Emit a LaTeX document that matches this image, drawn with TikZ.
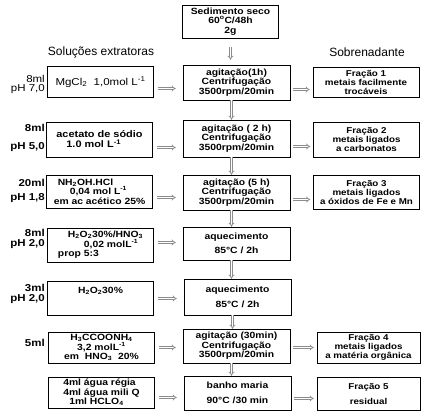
\documentclass[tikz,border=0pt]{standalone}
\usepackage{fontspec}
\setmainfont{Liberation Sans}
\newfontfamily\boxfont[FakeStretch=1.15]{Liberation Sans}
\usetikzlibrary{arrows.meta,shadows}
\definecolor{ArrGray}{HTML}{8C8C8C}

\begin{document}
\begin{tikzpicture}[x=1pt,y=-1pt,
box/.style={draw=black,fill=white,line width=0.5pt,inner sep=1pt,align=center,font=\boxfont\bfseries\fontsize{9}{9.5}\selectfont,
  drop shadow={shadow xshift=0.8pt,shadow yshift=-0.8pt,fill=black!75,opacity=1}},
lbox/.style={box,minimum width=106pt},
mbox/.style={box,minimum width=107pt},
rbox/.style={box,minimum width=106pt,font=\boxfont\bfseries\fontsize{8.5}{9}\selectfont},
lbl/.style={anchor=east,inner sep=0pt,font=\boxfont\bfseries\fontsize{10}{11}\selectfont},
head/.style={font=\fontsize{12}{14}\selectfont},
arr/.style={draw=ArrGray,line width=0.7pt,double=white,double distance=1.3pt,-{Implies}}]
\useasboundingbox (0,0) rectangle (432,418);
% sample and column heads
\node[box,minimum width=96pt,minimum height=33pt] (top) at (230.5,21.5) {Sedimento seco\\60\textsuperscript{o}C/48h\\2g};
\node[head] (hl) at (101,52) {Soluções extratoras};
\node[head] (hr) at (367,52) {Sobrenadante};
% row labels
\node[lbl,font=\boxfont\fontsize{10}{11}\selectfont] (v1) at (45,79) {8ml};
\node[lbl,font=\boxfont\fontsize{10}{11}\selectfont] (p1) at (45,89) {pH 7,0};
\node[lbl] (v2) at (45,128) {8ml};
\node[lbl] (p2) at (45,147) {pH 5,0};
\node[lbl] (v3) at (45,183) {20ml};
\node[lbl] (p3) at (45,198) {pH 1,8};
\node[lbl] (v4) at (45,233) {8ml};
\node[lbl] (p4) at (45,244) {pH 2,0};
\node[lbl] (v5) at (45,288) {3ml};
\node[lbl] (p5) at (45,299) {pH 2,0};
\node[lbl] (v6) at (45,343) {5ml};
% extracting solutions
\node[lbox,minimum height=31pt,font=\boxfont\fontsize{10}{11}\selectfont] (l1) at (100.5,82) {MgCl\textsubscript{2}\ \ 1,0mol L\textsuperscript{-1}};
\node[lbox,minimum height=35pt,align=left,font=\boxfont\bfseries\fontsize{9.5}{10}\selectfont] (l2) at (99.5,139.5) {acetato de sódio\\\hspace*{10pt}1.0 mol L\textsuperscript{-1}};
\node[lbox,minimum height=33pt,align=left] (l3) at (99.5,191.5) {\hspace*{4pt}NH\textsubscript{2}OH.HCl\\\hspace*{16pt}0,04 mol L\textsuperscript{-1}\\em ac acético 25\%};
\node[lbox,minimum height=34pt,align=left] (l4) at (100.5,245) {\hspace*{10pt}H\textsubscript{2}O\textsubscript{2}30\%/HNO\textsubscript{3}\\\hspace*{26pt}0,02 molL\textsuperscript{-1}\\prop 5:3};
\node[lbox,minimum height=34pt] (l5) at (100.5,298) {H\textsubscript{2}O\textsubscript{2}30\%\\[6pt]};
\node[lbox,minimum height=31pt] (l6) at (101.5,347.5) {H\textsubscript{3}CCOONH\textsubscript{4}\\3,2 molL\textsuperscript{-1}\\em\ \ HNO\textsubscript{3}\ \ 20\%};
\node[lbox,minimum height=31pt,align=left] (l7) at (101.5,392.5) {4ml água régia\\4ml água mili Q\\\hspace*{6pt}1ml HCLO\textsubscript{4}};
% treatments
\node[mbox,minimum height=35pt] (m1) at (236.5,82.5) {agitação(1h)\\Centrifugação\\3500rpm/20min};
\node[mbox,minimum height=37pt] (m2) at (236.5,138.5) {agitação ( 2 h)\\Centrifugação\\3500rpm/20min};
\node[mbox,minimum height=35pt] (m3) at (236.5,192.5) {agitação (5 h)\\Centrifugação\\3500rpm/20min};
\node[mbox,minimum height=33pt] (m4) at (236.5,243.5) {aquecimento\\[5pt]85°C / 2h};
\node[mbox,minimum height=36pt] (m5) at (237.5,297) {aquecimento\\[5pt]85°C / 2h};
\node[mbox,minimum height=34pt] (m6) at (236.5,346) {agitação (30min)\\Centrifugação\\3500rpm/20min};
\node[mbox,minimum height=34pt] (m7) at (237.5,393) {banho maria\\[5pt]90°C /30 min};
% fractions
\node[rbox,minimum height=30pt] (r1) at (366,82) {Fração 1\\metais facilmente\\trocáveis};
\node[rbox,minimum height=35pt] (r2) at (366.5,139.5) {Fração 2\\metais ligados\\a carbonatos};
\node[rbox,minimum height=34pt] (r3) at (366.5,192) {Fração 3\\metais ligados\\a óxidos de Fe e Mn};
\node[rbox,minimum height=31pt,minimum width=103pt] (r6) at (368.5,347.5) {Fração 4\\metais ligados\\a matéria orgânica};
\node[rbox,minimum height=33pt,minimum width=103pt] (r7) at (368.5,393.5) {Fração 5\\[6pt]residual};
% arrows
\draw[arr] ([yshift=-9pt]top.south) -- ([yshift=5pt]top.south |- m1.north);
\foreach \u/\v in {m1/m2,m2/m3,m3/m4,m4/m5,m5/m6,m6/m7}{\draw[arr] ([xshift=-5pt]\u.south) -- ([xshift=-5pt]\u.south |- \v.north);}
\foreach \i/\s in {1/-6.5pt,2/-8pt,3/-6pt,4/2.5pt,5/-0.5pt,6/0pt,7/-5pt}{\draw[arr] ([xshift=4pt,yshift=\s]l\i.east) -- ([xshift=-7pt,yshift=\s]l\i.east -| m\i.west);}
\foreach \i/\s in {1/-7pt,2/-8pt,3/-7pt,6/-1.5pt,7/-5.5pt}{\draw[arr] ([xshift=3pt,yshift=\s]m\i.east) -- ([xshift=-3pt,yshift=\s]m\i.east -| r\i.west);}
\end{tikzpicture}
\end{document}
